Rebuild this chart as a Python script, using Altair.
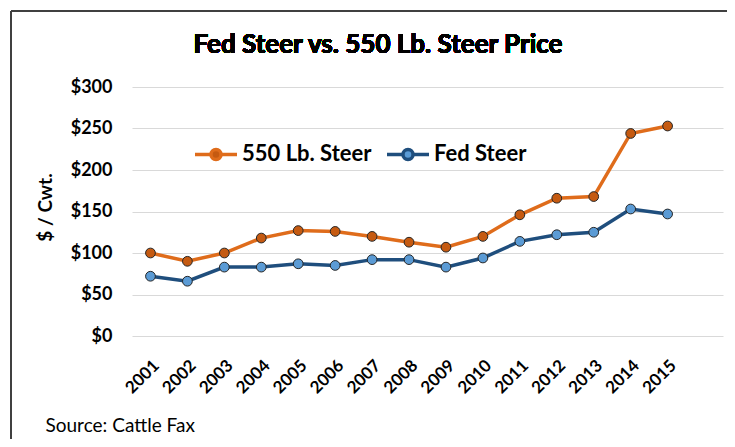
import altair as alt
import pandas as pd

years = list(range(2001, 2016))
series_names = ["550 Lb. Steer", "Fed Steer"]
steer_550 = [100, 90, 100, 118, 127, 126, 120, 113, 107, 120, 146, 166, 168, 244, 253]
fed_steer = [72, 66, 83, 83, 87, 85, 92, 92, 83, 94, 114, 122, 125, 153, 147]
y_ticks = [0, 50, 100, 150, 200, 250, 300]
chart_title = "Fed Steer vs. 550 Lb. Steer Price"
source_note = "Source: Cattle Fax"

line_colors = ["#DF6C1B", "#1F4E7D"]
marker_fills = ["#C55A11", "#5B9BD5"]

rows = []
for name, vals in zip(series_names, [steer_550, fed_steer]):
    for yr, v in zip(years, vals):
        rows.append({"Year": yr, "Series": name, "Price": v})
df = pd.DataFrame(rows)

FONT = "Lato"

x_enc = alt.X(
    "Year:Q",
    scale=alt.Scale(domain=[2000.5, 2016.5], nice=False, zero=False),
    axis=alt.Axis(
        values=years, format="d", labelAngle=-45, labelAlign="right",
        labelBaseline="top", labelPadding=21, labelOverlap=False, labelFont=FONT,
        labelFontSize=17, labelFontWeight="bold", labelColor="#000000",
        ticks=False, domain=False, grid=False, title=source_note, titleFont=FONT,
        titleFontSize=19, titleFontWeight="normal", titleColor="#000000",
        titleX=-87, titleY=89, titleAlign="left", titleBaseline="middle", titleAngle=0,
    ),
)
y_enc = alt.Y(
    "Price:Q",
    scale=alt.Scale(domain=[0, 300], nice=False),
    axis=alt.Axis(
        values=y_ticks, format="$,.0f", labelFont=FONT, labelFontSize=18,
        labelFontWeight="bold", labelColor="#000000", labelPadding=20,
        ticks=False, domain=False, grid=True, gridColor="#D9D9D9", gridWidth=1.2,
        title="$ / Cwt.", titleFont=FONT, titleFontSize=19, titleFontWeight="bold",
        titleColor="#000000", titleX=-87, titleY=120, titleAlign="center",
        titleBaseline="middle",
    ),
)

legend_symbol = "M-1,0L-0.24,0M0.24,0L1,0M0.24,0A0.24,0.24,0,1,1,-0.24,0A0.24,0.24,0,1,1,0.24,0Z"

lines = alt.Chart(df).mark_line(strokeWidth=3.5).encode(
    x=x_enc,
    y=y_enc,
    stroke=alt.Stroke(
        "Series:N",
        scale=alt.Scale(domain=series_names, range=line_colors),
        legend=alt.Legend(
            title=None, orient="none", legendX=61, legendY=44, direction="horizontal",
            symbolType=legend_symbol, symbolSize=1764, symbolStrokeWidth=3.5,
            labelFont=FONT, labelFontSize=22, labelFontWeight="bold",
            labelColor="#000000", labelOffset=3, columnPadding=8,
        ),
    ),
)

points = alt.Chart(df).mark_point(
    filled=True, size=95, stroke="#262626", strokeWidth=1, opacity=1
).encode(
    x=x_enc,
    y=y_enc,
    fill=alt.Fill(
        "Series:N",
        scale=alt.Scale(domain=series_names, range=marker_fills),
        legend=alt.Legend(title=None),
    ),
)

frame_v = alt.Chart(df).mark_rule(color="#404040", strokeWidth=1.5).encode(
    x=alt.value(-121), y=alt.value(-76), y2=alt.value(400)
)
frame_h = alt.Chart(df).mark_rule(color="#404040", strokeWidth=1.5).encode(
    x=alt.value(-121), x2=alt.value(640), y=alt.value(-76)
)
title_text = alt.Chart(df).mark_text(
    font=FONT, fontSize=26, fontWeight="bold", color="#000000",
    align="center", baseline="alphabetic",
).encode(x=alt.value(246), y=alt.value(-34), text=alt.value(chart_title))

chart = alt.layer(frame_v, frame_h, title_text, lines, points).properties(
    width=591,
    height=249,
    background="#FFFFFF",
    autosize=alt.AutoSizeParams(type="none"),
    padding={"left": 124, "top": 79, "right": 4, "bottom": 103},
).configure_view(stroke=None)

chart.save("out.html", embed_options={"renderer": "svg", "actions": False})
